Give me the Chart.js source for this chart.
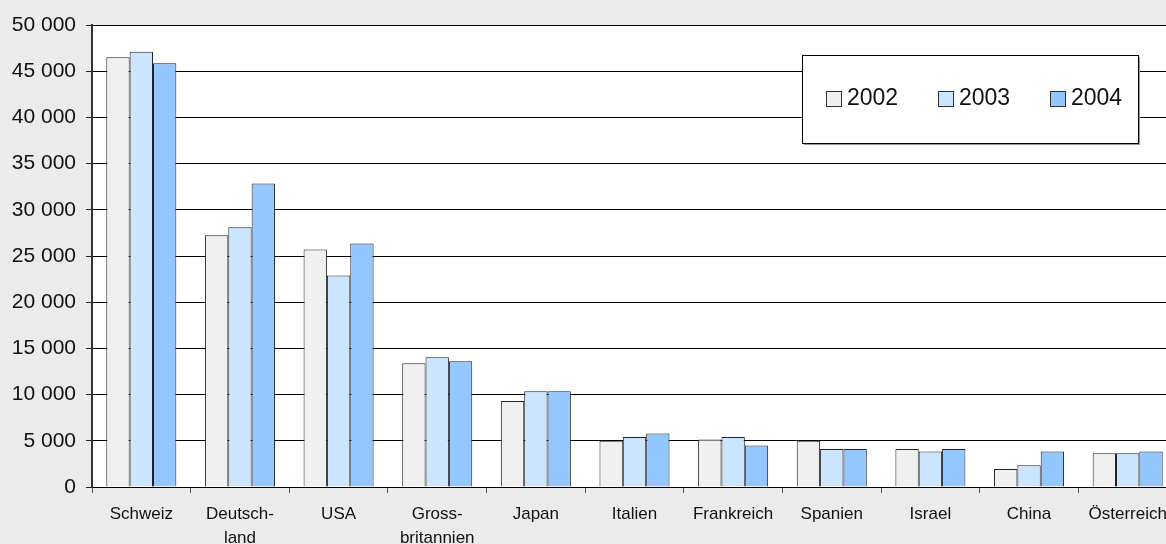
<!DOCTYPE html>
<html>
<head>
<meta charset="utf-8">
<script src="https://cdn.jsdelivr.net/npm/chart.js@4.4.1/dist/chart.umd.min.js"></script>
<style>
  html, body { margin: 0; padding: 0; background: #ebebeb; overflow: hidden; }
  canvas { display: block; }
</style>
</head>
<body>
<canvas id="chart" width="1177" height="544"></canvas>
<script>
// --- DATA ---
const categories = ['Schweiz', ['Deutsch-', 'land'], 'USA', ['Gross-', 'britannien'], 'Japan',
  'Italien', 'Frankreich', 'Spanien', 'Israel', 'China', 'Österreich'];
const years = ['2002', '2003', '2004'];
const values2002 = [46500, 27250, 25700, 13400, 9300, 5000, 5150, 5000, 4100, 1950, 3650];
const values2003 = [47100, 28100, 22900, 14050, 10350, 5400, 5400, 4100, 3850, 2350, 3650];
const values2004 = [45850, 32850, 26350, 13600, 10350, 5800, 4500, 4100, 4100, 3850, 3850];
const yTicks = [0, 5000, 10000, 15000, 20000, 25000, 30000, 35000, 40000, 45000, 50000];

const barColors = ['#f0f0f0', '#cce5ff', '#94c6ff'];

function fmt(v) {
  return String(v).replace(/\B(?=(\d{3})+(?!\d))/g, ' ');
}

// --- BACKGROUND + LEGEND ---
const bgPlugin = {
  id: 'bg',
  beforeDraw(chart) {
    const { ctx, chartArea: a } = chart;
    ctx.save();
    ctx.fillStyle = '#ebebeb';
    ctx.fillRect(0, 0, chart.width, chart.height);
    ctx.fillStyle = '#ffffff';
    ctx.fillRect(a.left, a.top, a.right - a.left, a.bottom - a.top);
    ctx.restore();
  }
};

const boxLegend = {
  id: 'boxLegend',
  afterDatasetsDraw(chart) {
    const ctx = chart.ctx;
    const x = 802, y = 55, w = 336, h = 88;
    ctx.save();
    ctx.fillStyle = '#9a9a9a';
    ctx.fillRect(x + 2, y + 2, w, h);
    ctx.fillStyle = '#ffffff';
    ctx.fillRect(x, y, w, h);
    ctx.strokeStyle = '#000';
    ctx.lineWidth = 1;
    ctx.strokeRect(x + 0.5, y + 0.5, w, h);
    ctx.font = '23px "Liberation Sans", Arial, sans-serif';
    ctx.textBaseline = 'middle';
    chart.data.datasets.forEach((ds, i) => {
      const ix = 826 + i * 112;
      ctx.fillStyle = ds.backgroundColor;
      ctx.fillRect(ix, 91, 15, 15);
      ctx.strokeStyle = '#333';
      ctx.strokeRect(ix + 0.5, 91.5, 15, 15);
      ctx.fillStyle = '#111';
      ctx.fillText(ds.label, ix + 21, 99);
    });
    ctx.restore();
  }
};

new Chart(document.getElementById('chart'), {
  type: 'bar',
  data: {
    labels: categories,
    datasets: [values2002, values2003, values2004].map((vals, i) => ({
      label: years[i],
      data: vals,
      backgroundColor: barColors[i],
      borderColor: '#222',
      borderWidth: 1,
      borderSkipped: 'bottom',
      categoryPercentage: 0.71,
      barPercentage: 1.0
    }))
  },
  options: {
    responsive: false,
    animation: false,
    devicePixelRatio: 1,
    layout: { padding: { top: 25, left: 0, right: 0, bottom: 0 } },
    plugins: {
      legend: { display: false },
      tooltip: { enabled: false }
    },
    scales: {
      x: {
        offset: true,
        grid: { drawOnChartArea: false, tickLength: 6, color: '#555', tickColor: '#555' },
        border: { color: '#000', width: 1 },
        ticks: {
          color: '#111',
          padding: 10,
          maxRotation: 0,
          autoSkip: false,
          font: { family: '"Liberation Sans", Arial, sans-serif', size: 17, lineHeight: 1.38 }
        },
        afterFit(scale) { scale.height = 57; }
      },
      y: {
        min: 0,
        max: 50000,
        afterBuildTicks(scale) { scale.ticks = yTicks.map(v => ({ value: v })); },
        grid: { color: '#000', lineWidth: 1, tickLength: 6, tickColor: '#222' },
        border: { color: '#333', width: 2 },
        ticks: {
          color: '#111',
          padding: 10,
          callback: v => fmt(v),
          font: { family: '"Liberation Sans", Arial, sans-serif', size: 21 }
        },
        afterFit(scale) { scale.width = 92; }
      }
    }
  },
  plugins: [bgPlugin, boxLegend]
});
</script>
</body>
</html>
